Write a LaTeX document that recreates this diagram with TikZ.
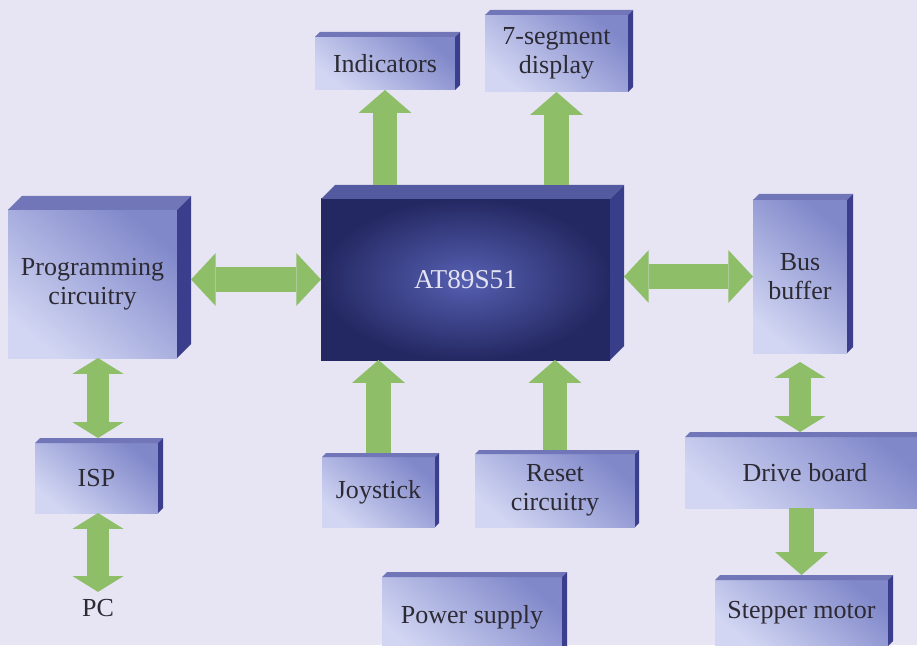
\documentclass[tikz,border=0pt]{standalone}
\usepackage{fontspec}
\setmainfont{Liberation Serif}
\usetikzlibrary{arrows.meta,calc}

\definecolor{bgcol}{RGB}{231,229,244}
\definecolor{boxlight}{RGB}{210,214,243}
\definecolor{boxdark}{RGB}{128,136,202}
\definecolor{topface}{RGB}{112,118,184}
\definecolor{sideface}{RGB}{58,62,140}
\definecolor{chipdark}{RGB}{36,40,98}
\definecolor{chipglow}{RGB}{86,96,178}
\definecolor{chiptop}{RGB}{84,90,160}
\definecolor{chipside}{RGB}{56,62,138}
\definecolor{chiptext}{RGB}{226,226,240}
\definecolor{textcol}{RGB}{45,42,52}
\definecolor{arrowgreen}{RGB}{143,190,105}

% top and right faces of a block
\newcommand{\boxsides}[4]{%
    \fill[#3] (#1.north west) -- ++(#2,#2) -- ($(#1.north east)+(#2,#2)$) -- (#1.north east) -- cycle;
    \fill[#4] (#1.north east) -- ++(#2,#2) -- ($(#1.south east)+(#2,#2)$) -- (#1.south east) -- cycle;}

\begin{document}
\begin{tikzpicture}[
    block/.style={outer sep=0pt, align=center, text=textcol,
        font=\fontsize{14.8}{16.5}\selectfont,
        top color=boxdark, bottom color=boxlight, shading angle=-40},
    chipbox/.style={outer sep=0pt, align=center, text=chiptext,
        font=\fontsize{15.5}{18}\selectfont,
        inner color=chipglow, outer color=chipdark},
    fat/.style={draw=arrowgreen, line width=14pt,
        -{Triangle[length=13pt,width=30pt,line width=0pt]}},
    fatboth/.style={draw=arrowgreen, line width=14pt,
        {Triangle[length=14pt,width=30pt,line width=0pt]}-{Triangle[length=14pt,width=30pt,line width=0pt]}},
    thinboth/.style={draw=arrowgreen, line width=12.5pt,
        {Triangle[length=9pt,width=29pt,line width=0pt]}-{Triangle[length=9pt,width=29pt,line width=0pt]}}
]
    \useasboundingbox (0,0) rectangle (18.34,12.9);
    \clip (0,0) rectangle (18.34,12.9);
    \fill[bgcol] (0,0) rectangle (18.34,12.9);

    \node[chipbox, minimum width=5.78cm, minimum height=3.22cm]
        (chip) at (9.31, 7.31) {AT89S51};
    \node[block, minimum width=3.38cm, minimum height=2.96cm]
        (prog) at (1.85, 7.22) {Programming\\circuitry};
    \node[block, minimum width=1.88cm, minimum height=3.06cm]
        (bus) at (16.00, 7.37) {Bus\\buffer};
    \node[block, minimum width=2.80cm, minimum height=1.06cm]
        (ind) at (7.70, 11.63) {Indicators};
    \node[block, minimum width=2.86cm, minimum height=1.54cm]
        (seg) at (11.13, 11.83) {7-segment\\display};
    \node[block, minimum width=2.46cm, minimum height=1.40cm]
        (isp) at (1.93, 3.34) {ISP};
    \node[block, minimum width=2.26cm, minimum height=1.40cm]
        (joy) at (7.57, 3.06) {Joystick};
    \node[block, minimum width=3.20cm, minimum height=1.46cm]
        (rst) at (11.10, 3.09) {Reset\\circuitry};
    \node[block, minimum width=4.80cm, minimum height=1.42cm]
        (drv) at (16.10, 3.45) {Drive board};
    \node[block, minimum width=3.46cm, minimum height=1.32cm]
        (stp) at (16.03, 0.64) {Stepper motor};
    \node[block, minimum width=3.60cm, minimum height=1.60cm]
        (pwr) at (9.44, 0.56) {Power supply};
    \node[text=textcol, font=\fontsize{14.8}{16.5}\selectfont, inner sep=0.14cm]
        (pc) at (1.96, 0.74) {PC};

    \boxsides{chip}{0.28}{chiptop}{chipside}
    \boxsides{prog}{0.28}{topface}{sideface}
    \boxsides{bus}{0.12}{topface}{sideface}
    \boxsides{ind}{0.1}{topface}{sideface}
    \boxsides{seg}{0.1}{topface}{sideface}
    \boxsides{isp}{0.1}{topface}{sideface}
    \boxsides{joy}{0.08}{topface}{sideface}
    \boxsides{rst}{0.08}{topface}{sideface}
    \boxsides{drv}{0.1}{topface}{sideface}
    \boxsides{stp}{0.1}{topface}{sideface}
    \boxsides{pwr}{0.1}{topface}{sideface}

    \draw[fat] ($(chip.north -| ind)+(0,0.28)$) -- (ind.south);
    \draw[fat] ($(chip.north -| seg)+(0,0.28)$) -- (seg.south);
    \draw[fatboth] ($(chip.west -| prog.east)+(0.28,0)$) -- (chip.west);
    \draw[fatboth] ($(bus.west -| chip.east)+(0.28,0)$) -- (bus.west);
    \draw[thinboth] (prog.south -| pc) -- ($(isp.north -| pc)+(0,0.1)$);
    \draw[thinboth] (isp.south -| pc) -- (pc.north);
    \draw[fat] ($(joy.north)+(0,0.08)$) -- (joy.north |- chip.south);
    \draw[fat] ($(rst.north)+(0,0.08)$) -- (rst.north |- chip.south);
    \draw[thinboth] ([yshift=-0.18cm]bus.south) -- ($(drv.north -| bus)+(0,0.1)$);
    \draw[fat] (drv.south -| stp) -- ($(stp.north)+(0,0.1)$);
\end{tikzpicture}
\end{document}
